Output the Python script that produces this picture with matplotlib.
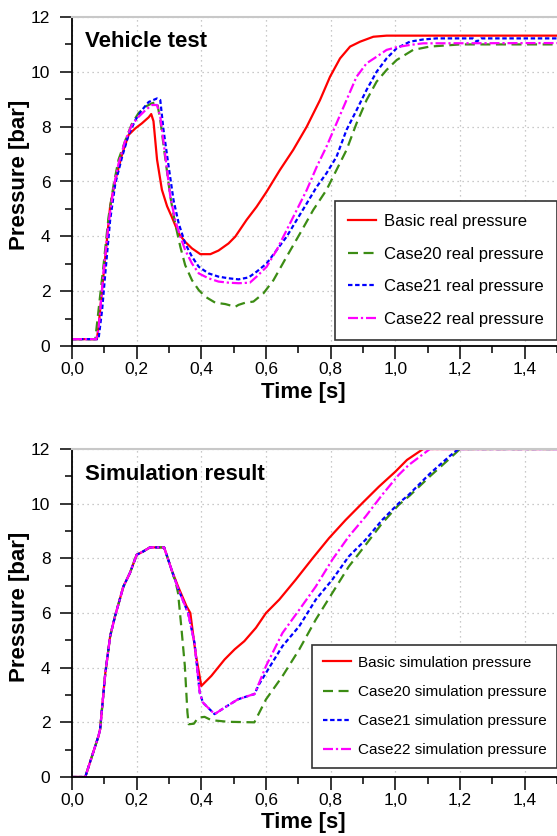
import matplotlib
matplotlib.use("Agg")
import matplotlib.pyplot as plt
from matplotlib import font_manager
from matplotlib.ticker import MultipleLocator, FuncFormatter

# ---------------- data ----------------
veh_basic_t = [0, 0.077, 0.082, 0.103, 0.118, 0.134, 0.155, 0.175, 0.196, 0.216, 0.237, 0.245, 0.252, 0.263,
               0.278, 0.294, 0.309, 0.33, 0.35, 0.371, 0.397, 0.428, 0.453, 0.484, 0.505, 0.54, 0.571, 0.602,
               0.643, 0.684, 0.726, 0.767, 0.798, 0.829, 0.86, 0.891, 0.932, 0.973, 1.5]
veh_basic_p = [0.25, 0.25, 0.7, 3.26, 5.1, 6.05, 7.0, 7.7, 7.94, 8.12, 8.34, 8.46, 8.2, 6.8,
               5.7, 5.1, 4.7, 4.1, 3.8, 3.56, 3.35, 3.35, 3.48, 3.74, 3.99, 4.6, 5.08, 5.63,
               6.42, 7.15, 8.0, 8.97, 9.82, 10.49, 10.92, 11.1, 11.28, 11.32, 11.32]

veh_c20_t = [0, 0.072, 0.082, 0.098, 0.113, 0.129, 0.144, 0.165, 0.185, 0.206, 0.227, 0.247, 0.263, 0.273,
             0.289, 0.304, 0.319, 0.335, 0.35, 0.371, 0.392, 0.412, 0.443, 0.474, 0.505, 0.515, 0.536, 0.561,
             0.592, 0.623, 0.664, 0.705, 0.746, 0.787, 0.818, 0.849, 0.88, 0.911, 0.942, 0.973, 1.004, 1.055,
             1.106, 1.2, 1.5]
veh_c20_p = [0.25, 0.25, 1.3, 3.0, 4.7, 5.9, 6.8, 7.5, 8.1, 8.5, 8.73, 8.85, 8.9, 8.25,
             6.8, 5.45, 4.47, 3.62, 2.95, 2.4, 2.04, 1.8, 1.58, 1.53, 1.43, 1.5, 1.58, 1.62,
             1.92, 2.4, 3.26, 4.1, 4.96, 5.69, 6.42, 7.15, 8.12, 8.97, 9.64, 10.07, 10.43, 10.8,
             10.92, 11.0, 11.0]

veh_c21_t = [0, 0.082, 0.093, 0.103, 0.118, 0.134, 0.155, 0.175, 0.196, 0.216, 0.237, 0.263, 0.273, 0.283,
             0.299, 0.314, 0.33, 0.35, 0.371, 0.392, 0.422, 0.453, 0.484, 0.515, 0.546, 0.571, 0.602, 0.633,
             0.664, 0.695, 0.726, 0.757, 0.787, 0.818, 0.849, 0.88, 0.911, 0.942, 0.973, 1.004, 1.045, 1.086,
             1.127, 1.24, 1.252, 1.265, 1.5]
veh_c21_p = [0.25, 0.25, 1.3, 2.65, 4.6, 5.93, 6.9, 7.7, 8.24, 8.6, 8.9, 9.03, 8.97, 7.88,
             6.54, 5.32, 4.47, 3.74, 3.26, 2.89, 2.65, 2.53, 2.47, 2.43, 2.5, 2.71, 3.01, 3.5,
             3.99, 4.6, 5.2, 5.81, 6.3, 6.9, 7.88, 8.6, 9.34, 10.0, 10.49, 10.86, 11.1, 11.18,
             11.22, 11.22, 11.1, 11.22, 11.22]

veh_c22_t = [0, 0.075, 0.082, 0.098, 0.113, 0.129, 0.144, 0.165, 0.185, 0.206, 0.227, 0.247, 0.263, 0.273,
             0.289, 0.304, 0.319, 0.335, 0.35, 0.371, 0.392, 0.422, 0.453, 0.484, 0.515, 0.55, 0.571, 0.602,
             0.633, 0.664, 0.695, 0.726, 0.757, 0.787, 0.818, 0.849, 0.88, 0.911, 0.942, 0.973, 1.004, 1.045,
             1.086, 1.5]
veh_c22_p = [0.25, 0.25, 0.6, 2.77, 4.47, 5.81, 6.66, 7.51, 8.06, 8.36, 8.6, 8.79, 8.79, 8.36,
             6.9, 5.45, 4.6, 3.99, 3.5, 3.01, 2.65, 2.47, 2.35, 2.31, 2.29, 2.31, 2.53, 2.89,
             3.5, 4.23, 4.96, 5.69, 6.54, 7.27, 8.12, 8.97, 9.82, 10.31, 10.55, 10.8, 10.9, 10.98,
             11.04, 11.05]

sim_basic_t = [0, 0.041, 0.082, 0.087, 0.103, 0.118, 0.133, 0.159, 0.179, 0.2, 0.22, 0.241, 0.285, 0.308,
               0.328, 0.354, 0.366, 0.382, 0.4, 0.431, 0.472, 0.503, 0.533, 0.569, 0.6, 0.641, 0.692, 0.744,
               0.795, 0.846, 0.897, 0.949, 1.0, 1.036, 1.086, 1.5]
sim_basic_p = [0, 0, 1.5, 1.75, 3.8, 5.15, 5.88, 6.97, 7.46, 8.13, 8.25, 8.4, 8.4, 7.58,
               6.97, 6.25, 6.0, 4.54, 3.33, 3.7, 4.3, 4.67, 4.97, 5.46, 6.0, 6.49, 7.22, 8.0,
               8.74, 9.4, 10.01, 10.62, 11.17, 11.6, 12.0, 12.0]

sim_c20_t = [0, 0.041, 0.082, 0.087, 0.103, 0.118, 0.133, 0.159, 0.179, 0.2, 0.22, 0.241, 0.285, 0.308,
             0.323, 0.328, 0.338, 0.349, 0.357, 0.361, 0.377, 0.39, 0.41, 0.431, 0.482, 0.564, 0.6, 0.651,
             0.703, 0.754, 0.805, 0.856, 0.908, 0.959, 1.01, 1.045, 1.107, 1.169, 1.2, 1.5]
sim_c20_p = [0, 0, 1.5, 1.75, 3.8, 5.15, 5.88, 6.97, 7.46, 8.13, 8.25, 8.4, 8.4, 7.58,
             7.0, 6.73, 5.5, 4.06, 2.36, 1.93, 1.95, 2.17, 2.2, 2.08, 2.02, 2.0, 2.84, 3.69,
             4.67, 5.76, 6.73, 7.7, 8.49, 9.28, 9.95, 10.3, 11.0, 11.66, 12.0, 12.0]

sim_c21_t = [0, 0.041, 0.082, 0.087, 0.103, 0.118, 0.133, 0.159, 0.179, 0.2, 0.22, 0.241, 0.285, 0.308,
             0.328, 0.359, 0.379, 0.395, 0.405, 0.441, 0.472, 0.513, 0.554, 0.564, 0.579, 0.6, 0.651, 0.703,
             0.754, 0.805, 0.856, 0.908, 0.959, 1.01, 1.041, 1.107, 1.169, 1.195, 1.5]
sim_c21_p = [0, 0, 1.5, 1.75, 3.8, 5.15, 5.88, 6.97, 7.46, 8.13, 8.25, 8.4, 8.4, 7.58,
             6.9, 6.0, 4.9, 3.09, 2.72, 2.3, 2.54, 2.84, 3.0, 3.03, 3.4, 3.81, 4.79, 5.52,
             6.49, 7.22, 8.07, 8.68, 9.4, 10.01, 10.32, 11.1, 11.75, 12.0, 12.0]

sim_c22_t = [0, 0.041, 0.082, 0.087, 0.103, 0.118, 0.133, 0.159, 0.179, 0.2, 0.22, 0.241, 0.285, 0.308,
             0.328, 0.359, 0.379, 0.395, 0.405, 0.441, 0.472, 0.513, 0.554, 0.564, 0.579, 0.6, 0.651, 0.703,
             0.754, 0.805, 0.856, 0.908, 0.959, 1.01, 1.041, 1.107, 1.5]
sim_c22_p = [0, 0, 1.5, 1.75, 3.8, 5.15, 5.88, 6.97, 7.46, 8.13, 8.25, 8.4, 8.4, 7.58,
             6.9, 6.0, 4.9, 3.09, 2.72, 2.3, 2.54, 2.84, 3.0, 3.03, 3.45, 4.06, 5.27, 6.12,
             6.97, 7.95, 8.8, 9.53, 10.32, 11.05, 11.41, 12.0, 12.0]

veh_labels = ["Basic real pressure", "Case20 real pressure", "Case21 real pressure", "Case22 real pressure"]
sim_labels = ["Basic simulation pressure", "Case20 simulation pressure",
              "Case21 simulation pressure", "Case22 simulation pressure"]
panel_titles = ["Vehicle test", "Simulation result"]
x_label = "Time [s]"
y_label = "Pressure [bar]"

# ---------------- style ----------------
names = {f.name for f in font_manager.fontManager.ttflist}
NARROW = "Liberation Sans Narrow" if "Liberation Sans Narrow" in names else "Liberation Sans"
plt.rcParams['font.family'] = [NARROW, 'DejaVu Sans']

colors = ["#ff0000", "#3c8c14", "#0000ff", "#ff00ff"]
lw = 1.6
styles = ["-", (0, (4.5, 2.5)), (0, (2.0, 1.2)), (0, (4.5, 1.3, 1.0, 1.3))]

fig = plt.figure(figsize=(5.57, 8.36), dpi=100)
fig.patch.set_facecolor("white")

L = 72 / 557
ax1 = fig.add_axes([L, 1 - 346 / 836, 1 - L, 329 / 836])
ax2 = fig.add_axes([L, 1 - 777 / 836, 1 - L, 328 / 836])

comma = FuncFormatter(lambda v, p: ("%.1f" % v).replace(".", ","))


def style_axes(ax, title, title_y, xlab_y):
    ax.set_xlim(0, 1.5)
    ax.set_ylim(0, 12)
    ax.xaxis.set_major_locator(MultipleLocator(0.2))
    ax.xaxis.set_minor_locator(MultipleLocator(0.1))
    ax.yaxis.set_major_locator(MultipleLocator(2))
    ax.yaxis.set_minor_locator(MultipleLocator(1))
    ax.xaxis.set_major_formatter(comma)
    ax.grid(True, which="major", color="#b8b8b8", linestyle=(0, (1, 3)), linewidth=0.9)
    ax.tick_params(which="major", direction="out", length=9, width=1.1, color="black",
                   labelsize=12.5)
    ax.tick_params(which="minor", direction="out", length=4.8, width=1.1, color="black")
    ax.tick_params(axis="x", which="major", pad=2.5)
    ax.tick_params(axis="y", which="major", pad=6.5)
    for s in ["left", "bottom"]:
        ax.spines[s].set_color("black")
        ax.spines[s].set_linewidth(1.3)
    ax.spines["top"].set_color("#c8c8c8")
    ax.spines["top"].set_linewidth(1.5)
    ax.spines["right"].set_visible(False)
    ax.set_ylabel(y_label, fontsize=16, fontweight="bold")
    ax.yaxis.set_label_coords(-0.0866, 0.52)
    ax.set_xlabel(x_label, fontsize=16, fontweight="bold")
    ax.xaxis.set_label_coords(0.477, xlab_y)
    ax.text(0.027, title_y, title, transform=ax.transAxes, fontsize=16, fontweight="bold",
            va="center", ha="left", color="black")


style_axes(ax1, panel_titles[0], 0.927, -0.109)
style_axes(ax2, panel_titles[1], 0.922, -0.107)

veh_series = [(veh_basic_t, veh_basic_p), (veh_c20_t, veh_c20_p), (veh_c21_t, veh_c21_p), (veh_c22_t, veh_c22_p)]
sim_series = [(sim_basic_t, sim_basic_p), (sim_c20_t, sim_c20_p), (sim_c21_t, sim_c21_p), (sim_c22_t, sim_c22_p)]

for (t, p), c, ls, lab in zip(veh_series, colors, styles, veh_labels):
    ax1.plot(t, p, color=c, linestyle=ls, linewidth=lw, label=lab, clip_on=True)
for (t, p), c, ls, lab in zip(sim_series, colors, styles, sim_labels):
    ax2.plot(t, p, color=c, linestyle=ls, linewidth=lw, label=lab, clip_on=True)

leg1 = ax1.legend(loc="lower right", bbox_to_anchor=(1.0, 0.018), borderaxespad=0, fontsize=12,
                  labelspacing=1.05, handlelength=1.7, handletextpad=0.45, borderpad=0.8,
                  fancybox=False, framealpha=1, edgecolor="#333333")
leg1.get_frame().set_linewidth(1.2)
leg2 = ax2.legend(loc="lower right", bbox_to_anchor=(1.0, 0.027), borderaxespad=0, fontsize=11,
                  labelspacing=1.0, handlelength=1.8, handletextpad=0.45, borderpad=0.7,
                  fancybox=False, framealpha=1, edgecolor="#333333")
leg2.get_frame().set_linewidth(1.2)

fig.savefig("out.png", dpi=100, facecolor="white")
